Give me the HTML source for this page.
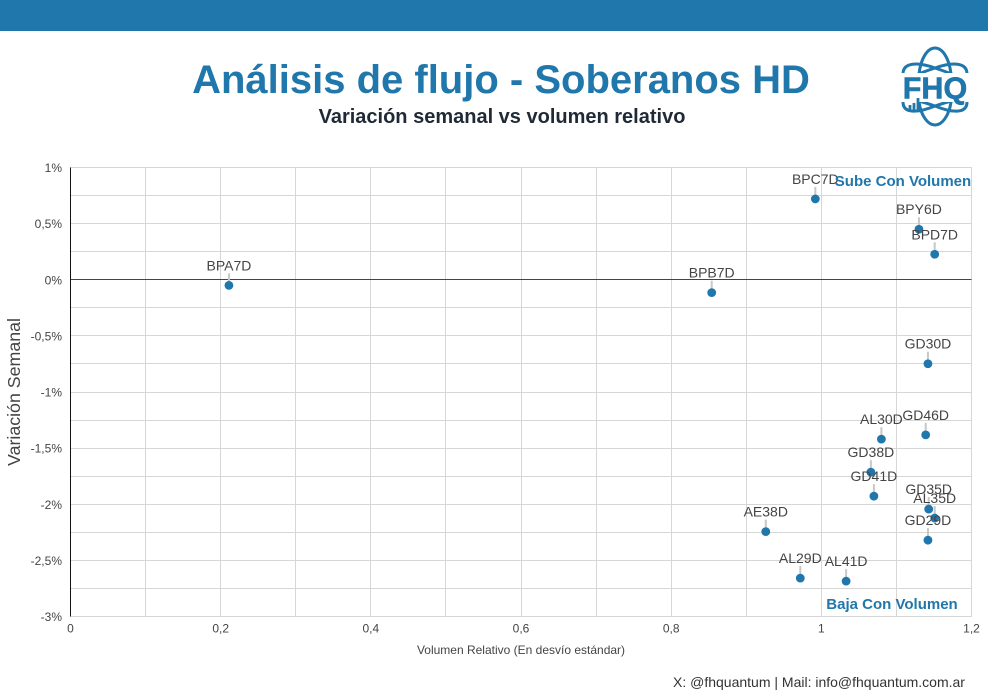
<!DOCTYPE html>
<html lang="es">
<head>
<meta charset="utf-8">
<title>Análisis de flujo - Soberanos HD</title>
<style>
html,body{margin:0;padding:0;background:#fff;}
body{width:988px;height:694px;overflow:hidden;position:relative;font-family:"Liberation Sans",Arial,sans-serif;}
svg{position:absolute;left:0;top:0;}
</style>
</head>
<body>
<svg id="chart" width="988" height="694" viewBox="0 0 988 694" font-family="'Liberation Sans',Arial,sans-serif">
  <rect x="0" y="0" width="988" height="31" fill="#1f77ab"/>
  <text x="501" y="93" text-anchor="middle" font-size="40" font-weight="bold" fill="#1f77ab">Análisis de flujo - Soberanos HD</text>
  <text x="502" y="123" text-anchor="middle" font-size="20" font-weight="bold" fill="#1f2a36">Variación semanal vs volumen relativo</text>
  <g fill="none" stroke="#1f77ab" stroke-width="3">
    <path d="M903 74 C903 62 918 62 935 68 C944 71 950 73 956 76"/>
    <path d="M967 74 C967 62 952 62 935 68 C926 71 920 73 914 76"/>
    <path d="M919 74 C921 57 928 48 935 48 C942 48 949 57 951 74"/>
    <path d="M903 102 C903 114 918 113 935 106 C944 103 950 101 956 100"/>
    <path d="M967 102 C967 114 952 113 935 106 C926 103 920 101 914 100"/>
    <path d="M919 102 C921 116 928 125 935 125 C942 125 949 116 951 102"/>
    <rect x="898" y="73" width="74" height="29" fill="#fff" stroke="none"/>
    <text x="935" y="98.5" text-anchor="middle" font-size="30.5" font-weight="bold" fill="#1f77ab" stroke="#1f77ab" stroke-width="0.6">FHQ</text>
    <path d="M910 110V105M914 110V103M918 110V98" stroke-width="2.8"/>
  </g>
  <g id="grid"></g>
  <g id="axes"></g>
  <g id="marks"></g>
  <g id="labels"></g>
  <text x="20" y="392" text-anchor="middle" font-size="17.8" fill="#444" transform="rotate(-90 20 392)">Variación Semanal</text>
  <text x="521" y="654" text-anchor="middle" font-size="12" fill="#444">Volumen Relativo (En desvío estándar)</text>
  <text x="903" y="186" text-anchor="middle" font-size="15" font-weight="bold" fill="#1f77ab">Sube Con Volumen</text>
  <text x="892" y="609" text-anchor="middle" font-size="15" font-weight="bold" fill="#1f77ab">Baja Con Volumen</text>
  <text x="819" y="687" text-anchor="middle" font-size="14" fill="#333">X: @fhquantum | Mail: info@fhquantum.com.ar</text>
</svg>
<script>
const tickers = ["BPA7D","BPB7D","BPC7D","BPY6D","BPD7D","GD30D","AL30D","GD46D","GD38D","GD41D","GD35D","AL35D","GD29D","AE38D","AL29D","AL41D"];
const volumeValues = [0.211,0.854,0.992,1.13,1.151,1.142,1.08,1.139,1.066,1.07,1.143,1.151,1.142,0.926,0.972,1.033];
const weeklyChange = [-0.05,-0.115,0.72,0.45,0.227,-0.748,-1.42,-1.382,-1.714,-1.928,-2.043,-2.123,-2.32,-2.244,-2.658,-2.685];
const xTickValues = [0,0.2,0.4,0.6,0.8,1,1.2];
const xGridValues = [0,0.1,0.2,0.3,0.4,0.5,0.6,0.7,0.8,0.9,1,1.1,1.2];
const yTickValues = [1,0.5,0,-0.5,-1,-1.5,-2,-2.5,-3];
const yGridValues = [1,0.75,0.5,0.25,0,-0.25,-0.5,-0.75,-1,-1.25,-1.5,-1.75,-2,-2.25,-2.5,-2.75,-3];

const NS = "http://www.w3.org/2000/svg";
const plot = {left:70.5,right:971.5,top:167.5,bottom:616.5};
function xScale(v){return plot.left+(v-0)/(1.2-0)*(plot.right-plot.left);}
function yScale(v){return plot.top+(1-v)/(1-(-3))*(plot.bottom-plot.top);}
function fmt(v){return String(v).replace(".",",");}
function make(tag,attrs,parent){
  const el=document.createElementNS(NS,tag);
  for(const k in attrs){el.setAttribute(k,attrs[k]);}
  parent.appendChild(el);
  return el;
}
const grid=document.getElementById("grid");
const axes=document.getElementById("axes");
const marks=document.getElementById("marks");
const labels=document.getElementById("labels");

xGridValues.forEach(function(v){
  const x=Math.round(xScale(v)-0.5)+0.5;
  const el=make("line",{x1:x,x2:x,y1:plot.top,y2:plot.bottom,stroke:"#d6d6d6","stroke-width":1},grid);
  
  
});
yGridValues.forEach(function(v){
  const y=Math.round(yScale(v)-0.5)+0.5;
  const el=make("line",{x1:plot.left,x2:plot.right,y1:y,y2:y,stroke:"#d6d6d6","stroke-width":1},grid);
  
  
});
const zeroLine=make("line",{x1:plot.left,x2:plot.right,y1:Math.round(yScale(0)-0.5)+0.5,y2:Math.round(yScale(0)-0.5)+0.5,stroke:"#444","stroke-width":1},axes);


const yAxisLine=make("line",{x1:plot.left,x2:plot.left,y1:plot.top,y2:plot.bottom,stroke:"#111","stroke-width":1},axes);



xTickValues.forEach(function(v){
  const t=make("text",{x:xScale(v),y:632.5,"text-anchor":"middle","font-size":12,fill:"#444"},axes);
  t.textContent=fmt(v);
  
  
});
yTickValues.forEach(function(v){
  const t=make("text",{x:62,y:yScale(v)+4.5,"text-anchor":"end","font-size":12,fill:"#444"},axes);
  t.textContent=fmt(v)+"%";
  
  
});
tickers.forEach(function(name,i){
  const cx=xScale(volumeValues[i]);
  const cy=yScale(weeklyChange[i]);
  const stem=make("line",{x1:cx,x2:cx,y1:cy-12,y2:cy-3,stroke:"#c8c8c8","stroke-width":2},marks);
  
  
  const dot=make("circle",{cx:cx,cy:cy,r:4.4,fill:"#1f77ab"},marks);
  
  
  const label=make("text",{x:cx,y:cy-15,"text-anchor":"middle","font-size":14,fill:"#444"},labels);
  label.textContent=name;
  
  
});
</script>
</body>
</html>
